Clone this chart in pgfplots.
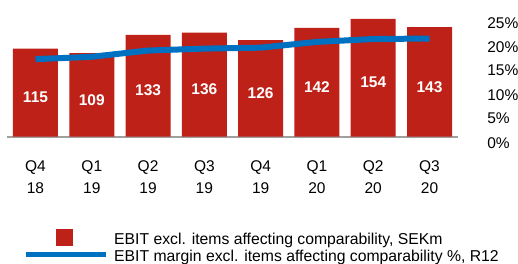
\documentclass[border=0pt]{standalone}
\usepackage{pgfplots}
\usepackage{pgfplotstable}
\pgfplotsset{compat=1.18}
\usepackage{fontspec}
\setmainfont{Liberation Sans}
\definecolor{barred}{RGB}{190,33,23}
\definecolor{lineblue}{RGB}{0,112,192}
\pgfplotstableread{
x v
0 115
1 109
2 133
3 136
4 126
5 142
6 154
7 143
}\ebit
\pgfplotstableread{
x m
0 17.4
1 17.9
2 19.2
3 19.6
4 19.8
5 21.0
6 21.6
7 21.7
}\margin
\begin{document}
\begin{tikzpicture}
\useasboundingbox (0,0) rectangle (518pt,264pt);
\begin{axis}[
 at={(7.35pt,127.3pt)}, anchor=south west,
 scale only axis, width=450.3pt, height=130.2pt,
 xmin=-0.5, xmax=7.5, ymin=0, ymax=170,
 axis x line*=bottom, axis y line=none,
 x axis line style={-, draw=gray!75, line width=2pt},
 xtick={0,...,7},
 xticklabels={{Q4\\18},{Q1\\19},{Q2\\19},{Q3\\19},{Q4\\19},{Q1\\20},{Q2\\20},{Q3\\20}},
 xticklabel style={align=center, anchor=north, inner sep=0pt, yshift=-23.8pt, font=\fontsize{15.5}{22}\selectfont},
 major tick length=0pt,
 ytick=\empty,
 clip=false,
 legend style={at={(0.03475,-0.7043)}, anchor=north west, draw=none, fill=none,
   inner sep=0pt, row sep=0pt, cells={anchor=west},
   nodes={inner sep=0pt, text height=13.5pt, text depth=3.5pt, font=\fontsize{15.75}{18}\selectfont},
   /tikz/every odd column/.append style={column sep=6pt}},
]
\addplot[ybar, bar width=45pt, bar shift=0pt, fill=barred, draw=none,
  legend image code/.code={\fill[barred] (30.5pt,-6.5pt) rectangle (47.5pt,10.5pt);}]
  table[x=x, y=v]{\ebit};
\addlegendentry{EBIT excl. items affecting comparability, SEKm}
\addlegendimage{legend image code/.code={\draw[lineblue, line width=5pt] (0pt,2pt) -- (80pt,2pt);}}
\addlegendentry{EBIT margin excl. items affecting comparability \%, R12}
\addplot[draw=none, mark=none, forget plot, nodes near coords, point meta=explicit,
  /pgf/number format/assume math mode=true,
  every node near coord/.append style={anchor=center, text=white, inner sep=0pt, font=\bfseries\fontsize{15.5}{18}\selectfont}]
  table[x=x, y expr=\thisrow{v}*0.5-6.4, meta=v]{\ebit};
\end{axis}
\begin{axis}[
 at={(7.35pt,121.3pt)}, anchor=south west,
 scale only axis, width=450.3pt, height=120pt,
 xmin=-0.5, xmax=7.5, ymin=0, ymax=25,
 hide x axis, axis y line*=right, y axis line style={draw=none},
 ytick={0,5,10,15,20,25},
 yticklabels={0\%,5\%,10\%,15\%,20\%,25\%},
 yticklabel style={anchor=west, inner sep=0pt, xshift=29.5pt, font=\fontsize{15.5}{18}\selectfont},
 major tick length=0pt,
 clip=false,
]
\addplot[lineblue, line width=6pt, mark=none, line join=round] table[x=x, y=m]{\margin};
\end{axis}
\end{tikzpicture}
\end{document}
